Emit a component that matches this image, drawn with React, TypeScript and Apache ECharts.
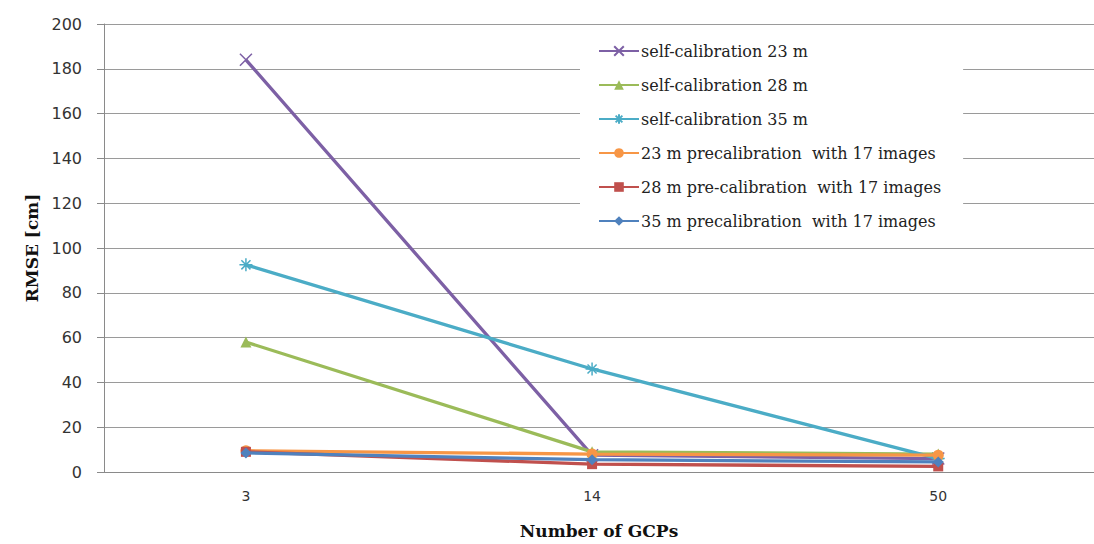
import React, { useEffect, useRef } from "react";
import * as echarts from "echarts";

const categories = ["3", "14", "50"];
const seriesNames = [
  "self-calibration 23 m",
  "self-calibration 28 m",
  "self-calibration 35 m",
  "23 m precalibration  with 17 images",
  "28 m pre-calibration  with 17 images",
  "35 m precalibration  with 17 images",
];
const selfCal23 = [184, 7.5, 6];
const selfCal28 = [58, 9, 8];
const selfCal35 = [92.5, 46, 6];
const preCal23 = [9.5, 8, 7.5];
const preCal28 = [9, 3.5, 2.5];
const preCal35 = [8.5, 5.5, 4.5];
const yTicks = { min: 0, max: 200, interval: 20 };

const colors = ["#7d60a5", "#9bbb59", "#4bacc6", "#f79646", "#c0504d", "#4f81bd"];
const symbols = [
  "path://M0,0L10,10M10,0L0,10",
  "triangle",
  "path://M5,0L5,10M0,5L10,5M1.5,1.5L8.5,8.5M8.5,1.5L1.5,8.5",
  "circle",
  "rect",
  "diamond",
];
const symbolSizes = [12, 11, 13, 11, 10, 11];
const allData = [selfCal23, selfCal28, selfCal35, preCal23, preCal28, preCal35];

export default function App() {
  const ref = useRef<HTMLDivElement>(null);
  useEffect(() => {
    if (!ref.current) return;
    const chart = echarts.init(ref.current, undefined, { renderer: "svg" });
    const series = allData.map((vals, i) => {
      const stroked = i === 0 || i === 2;
      return {
        name: seriesNames[i],
        type: "line",
        data: vals.map((v, j) => [j, v]),
        symbol: symbols[i],
        symbolSize: symbolSizes[i],
        showSymbol: true,
        lineStyle: { color: colors[i], width: 3.3 },
        itemStyle: {
          color: colors[i],
          borderColor: colors[i],
          borderWidth: stroked ? 1.5 : 0,
        },
        z: 2 + i,
      };
    });
    chart.setOption({
      animation: false,
      backgroundColor: "#fff",
      grid: { left: 104, right: 0, top: 24, bottom: 71 },
      xAxis: {
        type: "value",
        min: -0.41,
        max: 2.45,
        name: "Number of GCPs",
        nameLocation: "middle",
        nameGap: 50,
        nameTextStyle: {
          fontFamily: "DejaVu Serif",
          fontWeight: "bold",
          fontSize: 17,
          color: "#111",
        },
        axisLine: { show: true, onZero: false, lineStyle: { color: "#8a8a8a", width: 1 } },
        axisTick: { show: false },
        splitLine: { show: false },
        axisLabel: {
          customValues: [0, 1, 2],
          formatter: (v: number) => categories[Math.round(v)] ?? "",
          fontFamily: "DejaVu Sans",
          fontSize: 14,
          color: "#333",
          margin: 17,
        },
      },
      yAxis: {
        type: "value",
        min: yTicks.min,
        max: yTicks.max,
        interval: yTicks.interval,
        name: "RMSE [cm]",
        nameLocation: "middle",
        nameGap: 62,
        nameTextStyle: {
          fontFamily: "DejaVu Serif",
          fontWeight: "bold",
          fontSize: 17,
          color: "#111",
        },
        axisLine: { show: true, onZero: false, lineStyle: { color: "#8a8a8a", width: 1 } },
        axisTick: { show: true, inside: false, length: 7, lineStyle: { color: "#8a8a8a" } },
        splitLine: { show: true, lineStyle: { color: "#9a9a9a", width: 1 } },
        axisLabel: {
          fontFamily: "DejaVu Sans",
          fontSize: 16,
          color: "#333",
          margin: 22,
        },
      },
      legend: {
        orient: "vertical",
        left: 580,
        top: 33,
        padding: [10, 22, 10, 18],
        backgroundColor: "#fff",
        itemWidth: 40,
        itemHeight: 12,
        itemGap: 18,
        data: seriesNames,
        textStyle: {
          fontFamily: "DejaVu Serif",
          fontSize: 16,
          color: "#222",
          padding: [0, 0, 0, -3],
        },
      },
      series,
    });
    return () => chart.dispose();
  }, []);
  return (
    <div
      ref={ref}
      style={{ position: "fixed", left: 0, top: 0, width: 1094, height: 544 }}
    />
  );
}
